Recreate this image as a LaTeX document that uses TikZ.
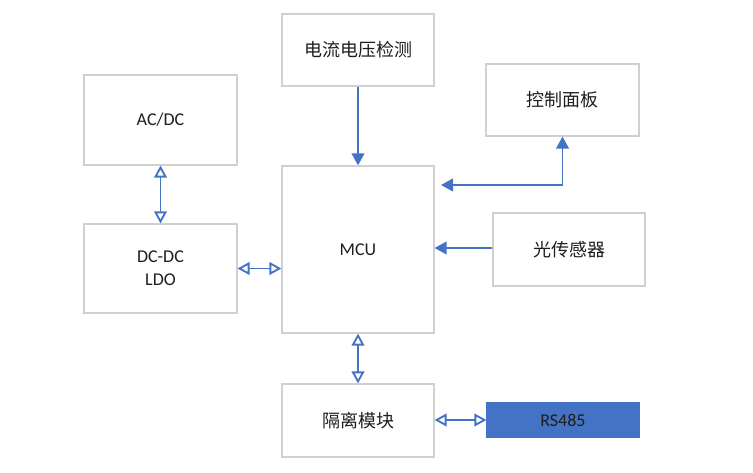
\documentclass[tikz,border=0pt]{standalone}
\usepackage{fontspec}
\setmainfont{Carlito}
\newfontfamily\cjk{Noto Sans CJK SC}
\usetikzlibrary{arrows.meta}
\definecolor{lineblue}{HTML}{4472C4}
\definecolor{boxgray}{HTML}{D0D0D0}
\definecolor{txt}{HTML}{1E1E1E}
\begin{document}
\begin{tikzpicture}[x=0.75pt,y=-0.75pt,
  box/.style={draw=boxgray,line width=0.9pt,fill=white,text=txt,align=center,font=\fontsize{13.5}{17}\selectfont},
  conn/.style={draw=lineblue,line width=1.4pt},
  fa/.style={conn,-{Triangle[length=9pt,width=9.5pt]}},
  oa/.style={conn,{Triangle[open,length=9pt,width=9.5pt]}-{Triangle[open,length=9pt,width=9.5pt]}}]
\useasboundingbox (0,0) rectangle (753,473);
\node[box,minimum width=153*0.75pt,minimum height=90*0.75pt] (acdc) at (160.5,120) {AC/DC};
\node[box,minimum width=153*0.75pt,minimum height=89*0.75pt] (dcdc) at (160.5,268.5) {DC-DC\\LDO};
\node[box,minimum width=152*0.75pt,minimum height=72*0.75pt] (iv) at (358,50) {\cjk 电流电压检测};
\node[box,minimum width=152*0.75pt,minimum height=167*0.75pt] (mcu) at (358,249.5) {MCU};
\node[box,minimum width=153*0.75pt,minimum height=72*0.75pt] (panel) at (562.5,100) {\cjk 控制面板};
\node[box,minimum width=152*0.75pt,minimum height=73*0.75pt] (light) at (569,249.5) {\cjk 光传感器};
\node[box,minimum width=152*0.75pt,minimum height=73*0.75pt] (iso) at (358,420.5) {\cjk 隔离模块};
\node[box,draw=lineblue,fill=lineblue,minimum width=152*0.75pt,minimum height=34*0.75pt] (rs) at (563,420) {RS485};
\coordinate (pend) at (441,185);
\draw[oa] (acdc.south) -- (dcdc.north);
\draw[oa] (dcdc.east) -- (mcu.west |- dcdc.east);
\draw[fa] (iv.south) -- (mcu.north);
\draw[conn,{Triangle[length=9pt,width=9.5pt]}-{Triangle[length=9pt,width=9.5pt]}] (pend) -| (panel.south);
\draw[fa] (light.west |- 0,248) -- (mcu.east |- 0,248);
\draw[oa] (mcu.south) -- (iso.north);
\draw[oa] (iso.east |- rs.west) -- (rs.west);
\end{tikzpicture}
\end{document}
